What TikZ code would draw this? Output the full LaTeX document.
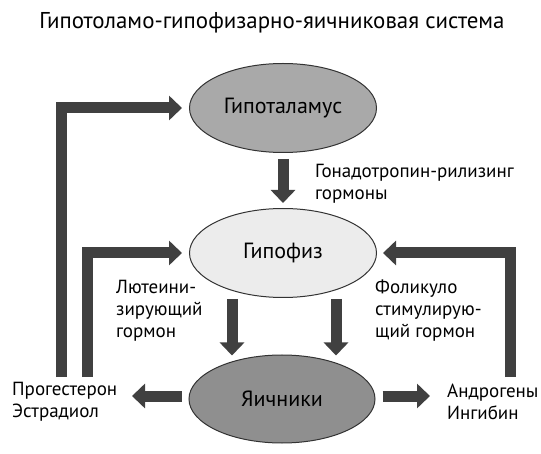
\documentclass[tikz,border=0pt]{standalone}
\usepackage{fontspec}
\setmainfont{PT Sans}
\usetikzlibrary{shapes.geometric,arrows.meta}
\definecolor{arrowgray}{HTML}{404040}
\definecolor{hypfill}{HTML}{A9A9A9}
\definecolor{pitfill}{HTML}{ECECEC}
\definecolor{ovfill}{HTML}{8F8F8F}
\definecolor{edgegray}{HTML}{333333}
\tikzset{
  organ/.style={ellipse, draw=edgegray, line width=1pt, minimum width=187pt, minimum height=89pt, inner sep=0pt, font=\fontsize{22}{25}\selectfont},
  fat/.style={draw=arrowgray, line width=11pt, line join=miter, -{Triangle[width=24pt,length=13pt]}, arrowgray},
  lbl/.style={align=left, inner sep=0pt, font=\fontsize{19}{22}\selectfont},
}
\begin{document}
\begin{tikzpicture}[x=1pt,y=-1pt]
\useasboundingbox (0,0) rectangle (541,454);
\node[font=\fontsize{22.9}{26}\selectfont] (title) at (272,23) {Гипотоламо-гипофизарно-яичниковая система};
\node[organ, fill=hypfill] (hyp) at (283,108) {Гипоталамус};
\node[organ, fill=pitfill] (pit) at (283,253) {Гипофиз};
\node[organ, fill=ovfill, minimum width=186pt, minimum height=88pt] (ov) at (282,399) {Яичники};
\node[lbl, anchor=west] (gnrh) at (315,184) {Гонадотропин-рилизинг\\гормоны};
\node[lbl, anchor=west] (lh) at (116,311) {Лютеини-\\зирующий\\гормон};
\node[lbl, anchor=west] (fsh) at (375,311) {Фоликуло\\стимулирую-\\щий гормон};
\node[lbl, anchor=west] (prog) at (12,402) {Прогестерон\\Эстрадиол};
\node[lbl, anchor=west] (andr) at (447,402) {Андрогены\\Ингибин};
% free ends
\coordinate (pe) at (132,396);
\coordinate (ae) at (430,396);
\coordinate (f1) at (61,377);
\coordinate (f2) at (87,377);
\coordinate (f3) at (510,377);
% arrows
\draw[fat] ([yshift=-6pt]hyp.south) -- ([yshift=5pt]pit.north);
\draw[fat] ([shift={(-51,1)}]pit.south) -- ([shift={(-50,1)}]ov.north);
\draw[fat] ([shift={(53,1)}]pit.south) -- ([shift={(54,1)}]ov.north);
\draw[fat] ([shift={(-7,-3)}]ov.west) -- (pe);
\draw[fat] ([shift={(7,-3)}]ov.east) -- (ae);
\draw[fat] (f1) |- ([xshift=-7pt]hyp.west);
\draw[fat] (f2) |- ([xshift=-7pt]pit.west);
\draw[fat] (f3) |- ([xshift=6pt]pit.east);
\end{tikzpicture}
\end{document}
